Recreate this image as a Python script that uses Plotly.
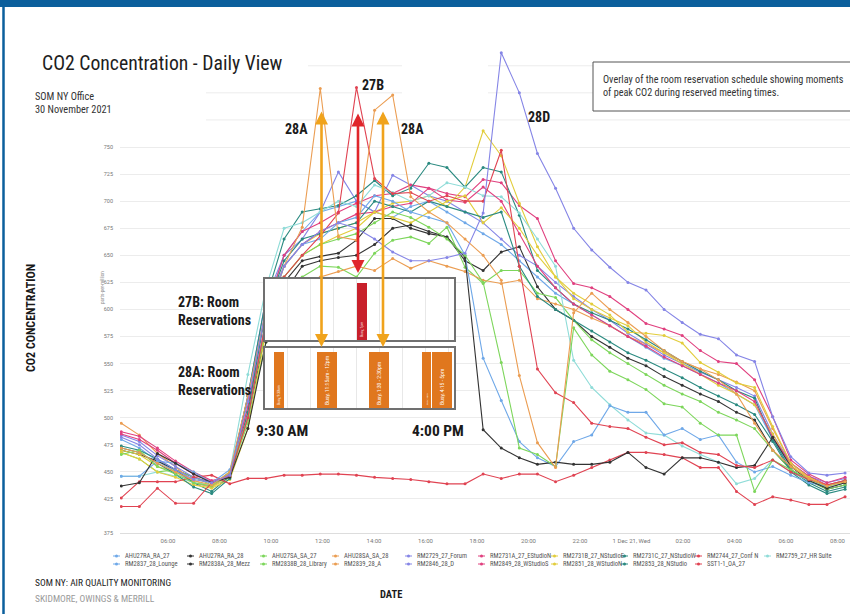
import plotly.graph_objects as go
import pandas as pd

# ---------------- data ----------------
times = pd.date_range("2021-11-30 04:11", periods=41, freq="2530s")

ahu27ra_ra_27 = [480, 472, 460, 450, 440, 436, 448,
                 520, 600, 650, 672, 690, 695, 700, 690, 685, 695, 700, 690, 680,
                 670, 660, 645, 630, 615, 605, 595, 585, 575, 565, 555, 548, 540, 532, 522, 512, 480, 455, 444, 436, 440]
ahu27ra_ra_28 = [470, 466, 460, 452, 445, 440, 446,
                 500, 580, 625, 645, 649, 652, 664, 684, 684, 675, 670, 667, 645,
                 636, 653, 658, 621, 600, 590, 575, 565, 555, 548, 538, 530, 522, 515, 505, 498, 470, 452, 442, 434, 438]
ahu27sa_sa_27 = [468, 462, 450, 452, 445, 438, 447,
                 495, 570, 610, 630, 640, 639, 630, 652, 664, 667, 661, 676, 639,
                 624, 636, 636, 615, 611, 590, 572, 560, 550, 540, 530, 522, 515, 505, 498, 490, 470, 452, 442, 434, 438]
ahu28sa_sa_28 = [495, 484, 467, 455, 440, 436, 449,
                 510, 580, 610, 625, 630, 635, 640, 636, 647, 638, 645, 640, 635,
                 627, 624, 627, 610, 605, 600, 592, 585, 575, 568, 560, 552, 545, 540, 533, 525, 490, 458, 445, 438, 442]
rm2729_27_forum = [484, 478, 465, 455, 445, 440, 448,
                   520, 610, 650, 665, 690, 727, 700, 690, 724, 715, 705, 700, 690,
                   680, 665, 650, 640, 625, 612, 600, 590, 578, 568, 558, 550, 542, 535, 528, 520, 485, 458, 446, 440, 444]
rm2731a_27_estudion = [487, 483, 472, 460, 450, 442, 446,
                       510, 600, 650, 672, 680, 690, 698, 705, 707, 715, 712, 707, 704,
                       720, 717, 696, 684, 645, 624, 620, 612, 600, 587, 582, 576, 562, 552, 550, 535, 501, 461, 448, 440, 445]
rm2731b_27_nstudioe = [470, 466, 455, 450, 442, 436, 445,
                       500, 590, 640, 660, 670, 675, 680, 690, 698, 700, 705, 695, 713,
                       765, 742, 698, 658, 630, 610, 600, 592, 585, 570, 560, 550, 540, 530, 522, 512, 485, 456, 444, 436, 440]
rm2731c_27_nstudiow = [474, 470, 462, 452, 440, 432, 446,
                       520, 610, 665, 690, 693, 696, 705, 719, 705, 712, 735, 731, 713,
                       731, 727, 687, 636, 620, 605, 597, 590, 582, 572, 562, 552, 543, 535, 525, 518, 480, 452, 440, 432, 436]
rm2744_27_conf_n = [418, 418, 435, 421, 421, 440, 447,
                    500, 590, 630, 650, 668, 689, 805, 721, 707, 708, 700, 705, 700,
                    700, 747, 640, 545, 523, 514, 495, 492, 490, 482, 475, 477, 468, 466, 456, 454, 461, 450, 443, 438, 442]
rm2759_27_hr_suite = [446, 446, 450, 446, 440, 438, 450,
                      540, 620, 675, 680, 690, 700, 695, 715, 708, 700, 705, 717, 713,
                      705, 704, 689, 665, 640, 553, 528, 512, 498, 486, 484, 474, 466, 459, 439, 444, 461, 450, 442, 436, 440]
rm2837_28_lounge = [446, 446, 460, 458, 450, 440, 452,
                    500, 590, 640, 660, 665, 680, 685, 705, 700, 690, 685, 680,
                    650, 555, 516, 478, 463, 455, 478, 484, 511, 505, 505, 484, 490, 480, 484, 459, 450, 455, 447, 440, 437, 442]
rm2838a_28_mezz = [437, 440, 467, 458, 448, 440, 445,
                   490, 570, 615, 640, 645, 648, 650, 660, 675, 678, 672, 667,
                   648, 489, 472, 463, 457, 459, 457, 457, 459, 468, 454, 448, 463, 463, 459, 454, 456, 482, 455, 442, 435, 440]
rm2838b_28_library = [466, 470, 455, 448, 440, 437, 450,
                      500, 585, 630, 650, 660, 665, 670, 680, 690, 685, 676, 665, 650,
                      625, 551, 472, 466, 455, 583, 558, 543, 535, 526, 513, 510, 495, 484, 484, 432, 461, 452, 443, 437, 442]
rm2839_28_a = [472, 468, 458, 450, 442, 438, 450,
               520, 600, 640, 676, 804, 667, 664, 784, 798, 704, 690, 680, 665,
               650, 627, 539, 477, 454, 597, 615, 600, 588, 575, 562, 552, 545, 535, 522, 495, 470, 455, 444, 437, 441]
rm2846_28_d = [482, 475, 462, 452, 443, 440, 447,
               515, 600, 640, 660, 672, 680, 675, 665, 653, 645, 645, 648,
               652, 689, 837, 800, 744, 712, 675, 655, 639, 625, 618, 600, 588, 577, 573, 558, 552, 501, 464, 449, 447, 449]
rm2849_28_wstudios = [485, 480, 470, 458, 448, 441, 446,
                      505, 590, 640, 660, 672, 680, 688, 690, 695, 698, 712, 701, 699,
                      713, 700, 670, 640, 620, 605, 595, 585, 575, 566, 556, 548, 540, 532, 525, 515, 482, 458, 446, 438, 442]
rm2851_28_wstudion = [468, 462, 450, 445, 438, 435, 443,
                      490, 580, 630, 650, 660, 668, 675, 690, 685, 680, 690, 700, 705,
                      680, 694, 675, 650, 630, 615, 605, 595, 579, 578, 576, 569, 551, 542, 532, 528, 492, 458, 445, 437, 441]
rm2853_28_nstudio = [472, 468, 458, 448, 436, 430, 444,
                     505, 600, 645, 665, 670, 675, 680, 700, 695, 690, 700, 695, 690,
                     685, 690, 640, 612, 600, 590, 580, 570, 560, 553, 545, 537, 528, 520, 512, 503, 478, 450, 438, 430, 434]
sst1_1_oa_27 = [426, 441, 441, 441, 445, 447, 439, 444, 444, 447, 447, 448, 448, 447, 445, 444, 443, 441,
                439, 439, 448, 444, 448, 448, 441, 447, 454, 461, 468, 468, 466, 463, 454, 454, 432, 420, 427, 424, 420, 420, 427]

series_names = ["AHU27RA_RA_27", "AHU27RA_RA_28", "AHU27SA_SA_27", "AHU28SA_SA_28", "RM2729_27_Forum",
                "RM2731A_27_EStudioN", "RM2731B_27_NStudioE", "RM2731C_27_NStudioW", "RM2744_27_Conf N",
                "RM2759_27_HR Suite",
                "RM2837_28_Lounge", "RM2838A_28_Mezz", "RM2838B_28_Library", "RM2839_28_A", "RM2846_28_D",
                "RM2849_28_WStudioS", "RM2851_28_WStudioN", "RM2853_28_NStudio", "SST1-1_OA_27"]
series_values = [ahu27ra_ra_27, ahu27ra_ra_28, ahu27sa_sa_27, ahu28sa_sa_28, rm2729_27_forum,
                 rm2731a_27_estudion, rm2731b_27_nstudioe, rm2731c_27_nstudiow, rm2744_27_conf_n,
                 rm2759_27_hr_suite,
                 rm2837_28_lounge, rm2838a_28_mezz, rm2838b_28_library, rm2839_28_a, rm2846_28_d,
                 rm2849_28_wstudios, rm2851_28_wstudion, rm2853_28_nstudio, sst1_1_oa_27]

LB, BK, GR, OR, PU, PK, YE, TE, RD, CY = ("#6fa8e8", "#333333", "#7dd65b", "#eb9d52", "#8585e6",
                                          "#e0407f", "#e2cd3c", "#2a8a80", "#e04352", "#8fdcd8")
series_colors = [LB, BK, GR, OR, PU, PK, YE, TE, RD, CY,
                 LB, BK, GR, OR, PU, PK, YE, TE, RD]

x_tick_vals = pd.date_range("2021-11-30 06:00", periods=14, freq="2h")
x_tick_text = ["06:00", "08:00", "10:00", "12:00", "14:00", "16:00", "18:00", "20:00", "22:00",
               "1 Dec 21, Wed", "02:00", "04:00", "06:00", "08:00"]
y_tick_vals = [393.6, 425, 450, 475, 500, 525, 550, 575, 600, 625, 650, 675, 700, 725, 750]
y_tick_text = ["375", "425", "450", "475", "500", "525", "550", "575", "600", "625", "650", "675", "700", "725", "750"]

# room reservation calendars (hours of day)
cal_27b_start = [13.0]
cal_27b_end = [13.43]
cal_27b_text = ["Busy, 1pm"]
cal_28a_start = [9.39, 11.26, 13.52, 15.83, 16.26]
cal_28a_end = [9.83, 12.13, 14.39, 16.22, 17.13]
cal_28a_text = ["Busy, 9:30am", "Busy, 11:15am - 12pm", "Busy, 1:30 - 2:30pm", "Busy, 4pm", "Busy, 4:15 - 5pm"]

# ---------------- layout helpers ----------------
W, H = 850, 614
L, R, T, B = 120, 0, 40, 81
PW, PH = W - L - R, H - T - B


def fx(px):
    return (px - L) / PW


def fy(py):
    return (H - B - py) / PH


FONT = "Roboto, Liberation Sans, sans-serif"
COND = "Liberation Sans Narrow, Roboto Condensed, DejaVu Sans Condensed, Roboto, sans-serif"

fig = go.Figure()

draw_order = [0, 1, 2, 3, 4, 5, 6, 7, 9, 15, 16, 17, 18, 10, 11, 12, 8, 13, 14]
for i in draw_order:
    fig.add_trace(go.Scatter(
        x=times, y=series_values[i], name=series_names[i], mode="lines+markers",
        line=dict(color=series_colors[i], width=1.1),
        marker=dict(color=series_colors[i], size=3),
        showlegend=False, xaxis="x", yaxis="y"))

# inset calendars
fig.add_trace(go.Bar(
    x=[(s + e) / 2 for s, e in zip(cal_27b_start, cal_27b_end)], y=[0.93] * len(cal_27b_start),
    width=[e - s for s, e in zip(cal_27b_start, cal_27b_end)], text=cal_27b_text,
    textposition="inside", insidetextanchor="start", textangle=-90,
    textfont=dict(size=5, color="white", family=FONT),
    marker=dict(color="#c8202b", line=dict(width=0)), showlegend=False, xaxis="x2", yaxis="y2"))
fig.add_trace(go.Bar(
    x=[(s + e) / 2 for s, e in zip(cal_28a_start, cal_28a_end)], y=[0.93] * len(cal_28a_start),
    width=[e - s for s, e in zip(cal_28a_start, cal_28a_end)], text=cal_28a_text,
    textposition="inside", insidetextanchor="start", textangle=-90,
    textfont=dict(size=5, color="white", family=FONT),
    marker=dict(color="#e0771e", line=dict(width=0)), showlegend=False, xaxis="x3", yaxis="y3"))

inset_x = dict(range=[9, 17.22], showticklabels=False, showgrid=True, gridcolor="#e8e8e8",
               tick0=9, dtick=1, showline=True, mirror=True, linecolor="#707070", linewidth=1.5,
               zeroline=False, ticks="", fixedrange=True)
inset_y = dict(range=[0, 1], showticklabels=False, showgrid=False, showline=True, mirror=True,
               linecolor="#707070", linewidth=1.5, zeroline=False, ticks="", fixedrange=True)

t_left = pd.Timestamp("2021-11-30 06:00") + pd.Timedelta(hours=(120 - 168) / 25.75)
t_right = pd.Timestamp("2021-11-30 06:00") + pd.Timedelta(hours=(850 - 168) / 25.75)

shapes = []
# partial upper grid lines (775, 800, 825)
for val, segs in [(775, [(206, 850)]), (800, [(206, 402), (488, 593)]), (825, [(308, 402), (488, 593)])]:
    for a, b in segs:
        shapes.append(dict(type="line", xref="paper", yref="y", x0=fx(a), x1=fx(b), y0=val, y1=val,
                           line=dict(color="#ececec", width=1), layer="below"))
# top slide bar and left border
shapes.append(dict(type="rect", xref="paper", yref="paper", x0=fx(0), x1=fx(850), y0=fy(7), y1=fy(0),
                   fillcolor="#0b5f9c", line=dict(width=0), layer="above"))
shapes.append(dict(type="line", xref="paper", yref="paper", x0=fx(3.5), x1=fx(3.5), y0=fy(614), y1=fy(7),
                   line=dict(color="#0b5f9c", width=2.5), layer="above"))
# note box
shapes.append(dict(type="rect", xref="paper", yref="paper", x0=fx(593), x1=fx(870), y0=fy(111), y1=fy(62),
                   fillcolor="white", line=dict(color="#555555", width=1), layer="above"))

annotations = []


def txt(text, px, py, size, color="#222", bold=False, xanchor="left", family=FONT, angle=0, yanchor="middle"):
    annotations.append(dict(text=("<b>%s</b>" % text) if bold else text, x=fx(px), y=fy(py), xref="paper",
                            yref="paper", xanchor=xanchor, yanchor=yanchor, showarrow=False, textangle=angle,
                            align="left", font=dict(size=size, color=color, family=family)))


txt("CO2 Concentration - Daily View", 40, 63, 19.7, "#1e1e1e", family=COND)
txt("SOM NY Office", 33, 97, 10.3, "#333", family=COND)
txt("30 November 2021", 33, 110, 10.3, "#333", family=COND)
txt("Overlay of the room reservation schedule showing moments<br>of peak CO2 during reserved meeting times.",
    601, 86, 10.2, "#333", family=COND)
txt("27B", 372.5, 85, 14, "#1a1a1a", True, "center", COND)
txt("28A", 296.5, 129, 14, "#1a1a1a", True, "center", COND)
txt("28A", 412.5, 129, 14, "#1a1a1a", True, "center", COND)
txt("28D", 539, 117, 14, "#1a1a1a", True, "center", COND)
txt("27B: Room<br>Reservations", 176, 311, 14, "#1a1a1a", True, "left", COND)
txt("28A: Room<br>Reservations", 176, 381, 14, "#1a1a1a", True, "left", COND)
txt("9:30 AM", 254, 431, 15.5, "#1a1a1a", True, "left", COND)
txt("4:00 PM", 466, 431, 15.5, "#1a1a1a", True, "right", COND)
txt("CO2 CONCENTRATION", 31, 318, 12, "#1a1a1a", True, "center", COND, -90)
txt("parts-per-million", 102, 288, 4.5, "#888", False, "center", FONT, -90)
txt("DATE", 391, 594, 10.5, "#1a1a1a", True, "center", COND)
txt("SOM NY: AIR QUALITY MONITORING", 33, 582, 9.5, "#222", family=COND)
txt("SKIDMORE, OWINGS &amp; MERRILL", 33, 598, 9.5, "#9a9a9a", family=COND)

# arrows
for xpx, ytop, ybot, col in [(321.5, 110, 347, "#f0a31c"), (358, 112, 273, "#e0262b"), (383, 110, 347, "#f0a31c")]:
    annotations.append(dict(text="", x=fx(xpx), y=fy(ybot), xref="paper", yref="paper", showarrow=True,
                            ax=0, ay=-(ybot - ytop), arrowhead=2, startarrowhead=2, arrowside="end+start",
                            arrowsize=1, startarrowsize=1, arrowwidth=2.6, arrowcolor=col, standoff=0,
                            startstandoff=0))

# manual legend
col_x = [123, 197, 270, 342, 415, 488, 561, 631, 705, 774]
row_y = [556, 564]
for i, (name, col) in enumerate(zip(series_names, series_colors)):
    r, c = divmod(i, 10)
    tx, ty = col_x[c], row_y[r]
    shapes.append(dict(type="line", xref="paper", yref="paper", x0=fx(tx - 10), x1=fx(tx - 3),
                       y0=fy(ty), y1=fy(ty), line=dict(color=col, width=1), layer="above"))
    shapes.append(dict(type="circle", xref="paper", yref="paper", x0=fx(tx - 8), x1=fx(tx - 5),
                       y0=fy(ty + 1.5), y1=fy(ty - 1.5), fillcolor=col, line=dict(width=0), layer="above"))
    txt(name, tx, ty, 6.6, "#555", family=COND)

fig.update_layout(
    width=W, height=H, margin=dict(l=L, r=R, t=T, b=B, autoexpand=False),
    paper_bgcolor="white", plot_bgcolor="white", showlegend=False,
    font=dict(family=FONT, color="#333"),
    xaxis=dict(domain=[0, 1], range=[t_left, t_right], tickvals=x_tick_vals, ticktext=x_tick_text,
               showgrid=False, showline=True, linecolor="#dddddd", linewidth=1, ticks="", zeroline=False,
               tickfont=dict(size=6, color="#777", family=FONT), ticklabelstandoff=2),
    yaxis=dict(domain=[0, 1], range=[393.6, 848.8], tickvals=y_tick_vals, ticktext=y_tick_text,
               showgrid=True, gridcolor="#ececec", gridwidth=1, showline=False, zeroline=False, ticks="",
               tickfont=dict(size=5.5, color="#777", family=FONT), ticklabelstandoff=6),
    xaxis2=dict(domain=[fx(265), fx(454)], anchor="y2", **inset_x),
    yaxis2=dict(domain=[fy(340), fy(279)], anchor="x2", **inset_y),
    xaxis3=dict(domain=[fx(265), fx(454)], anchor="y3", **inset_x),
    yaxis3=dict(domain=[fy(408), fy(348)], anchor="x3", **inset_y),
    bargap=0, shapes=shapes, annotations=annotations,
)

fig.write_html("out.html", config={"displayModeBar": False},
               post_script="document.body.style.margin='0';")
